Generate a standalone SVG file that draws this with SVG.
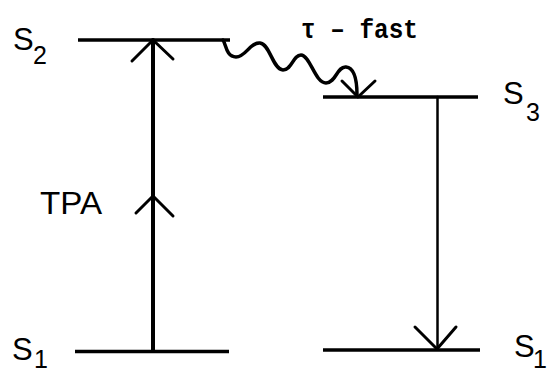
<svg xmlns="http://www.w3.org/2000/svg" width="547" height="375" viewBox="0 0 547 375">
<style>
.lvl{stroke:#000;stroke-width:3.5;stroke-linecap:butt;fill:none}
.ln{stroke:#000;fill:none;stroke-linecap:round;stroke-linejoin:round}
.lab{font-family:"Liberation Sans","DejaVu Sans",sans-serif;fill:#000}
.sub{font-family:"Liberation Sans","DejaVu Sans",sans-serif;fill:#000;font-size:25px}
.tau{font-family:"Liberation Mono","DejaVu Sans Mono",monospace;fill:#000;font-size:27px;font-weight:bold}
</style>
<rect width="547" height="375" fill="#fff"/>
<g id="S2">
<line class="lvl" x1="78" y1="40" x2="230" y2="40"/>
<text class="lab" x="13" y="50" font-size="31">S</text>
<text class="sub" x="33" y="64">2</text>
</g>
<g id="S1-left">
<line class="lvl" x1="75" y1="351.5" x2="229" y2="351.5"/>
<text class="lab" x="12" y="360" font-size="31">S</text>
<text class="sub" x="34" y="368">1</text>
</g>
<g id="S3">
<line class="lvl" x1="323" y1="97" x2="478" y2="97"/>
<text class="lab" x="503" y="104" font-size="31">S</text>
<text class="sub" x="526" y="121">3</text>
</g>
<g id="S1-right">
<line class="lvl" x1="323" y1="350" x2="480" y2="350"/>
<text class="lab" x="514" y="357" font-size="31">S</text>
<text class="sub" x="533" y="368">1</text>
</g>
<g id="connectors">
<line class="ln" stroke-width="4" x1="153" y1="40" x2="153" y2="351"/>
<path class="ln" stroke-width="3" d="M132,61 L153,40 L173,59"/>
<path class="ln" stroke-width="3" d="M136,213 L153,196 L173,216"/>
<text class="lab" x="40" y="214" font-size="31" textLength="62" lengthAdjust="spacingAndGlyphs">TPA</text>
<line class="ln" stroke-width="2.5" x1="437.5" y1="97" x2="437.5" y2="349"/>
<path class="ln" stroke-width="3" d="M415,327 L437,349 L456,327"/>
<path class="ln" stroke-width="3.5" d="M223,40 C226,44 226,57 236,57 C246,57 250,42 260,43 C270,44 273,70 283,70 C292,70 293,55 301,55 C310,55 315,83 326,83 C336,83 337,66 346,67 C356,68 357,85 357,95"/>
<path class="ln" stroke-width="3" d="M342,81 L358,97 L375,81"/>
<text class="tau" x="301" y="38" textLength="117" lengthAdjust="spacingAndGlyphs">τ – fast</text>
</g>
</svg>
